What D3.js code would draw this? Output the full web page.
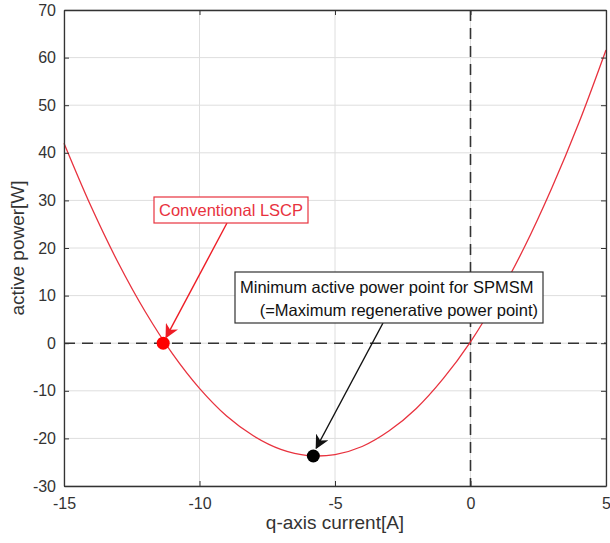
<html>
<head>
    <meta charset="utf-8">
    <style>
        body {
            margin: 0;
            background: white;
            font-family: "Liberation Sans", Arial, Helvetica, sans-serif;
        }
    </style>
    <script src="https://cdn.jsdelivr.net/npm/d3@7"></script>
</head>
<body>
    <svg id="chart"></svg>
<script>
    // curve, one point per ampere
    let currentQ = [-15, -14, -13, -12, -11, -10, -9, -8, -7, -6, -5, -4, -3, -2, -1, 0, 1, 2, 3, 4, 5]
    let activePower = [42, 28.7, 16.9, 6.6, -2.2, -9.5, -15.3, -19.5, -22.3, -23.6, -23.4, -21.7, -18.4, -13.7, -7.4, 0.3, 9.6, 20.3, 32.6, 46.3, 61.6]

    let xTicks = [-15, -10, -5, 0, 5]
    let yTicks = [-30, -20, -10, 0, 10, 20, 30, 40, 50, 60, 70]

    // marked points
    let lscpPoint = [-11.34, 0]
    let minPoint = [-5.8, -23.7]

    function configuration() {
        let width = 610
        let height = 543
        let margin = { top: 10, bottom: 57, left: 64, right: 4 }
        let bodyWidth = width - margin.left - margin.right
        let bodyHeight = height - margin.top - margin.bottom
        let container = d3.select("#chart")
            .attr("width", width)
            .attr("height", height)
        return { width, height, margin, bodyWidth, bodyHeight, container }
    }

    function makeScales(config) {
        let xScale = d3.scaleLinear()
            .domain([-15, 5])
            .range([0, config.bodyWidth])
        let yScale = d3.scaleLinear()
            .domain([-30, 70])
            .range([config.bodyHeight, 0])
        return { xScale, yScale }
    }

    function drawGrid(body, scales, config) {
        let { xScale, yScale } = scales
        body.append("g").selectAll("line")
            .data(xTicks)
            .enter().append("line")
            .attr("x1", d => xScale(d)).attr("x2", d => xScale(d))
            .attr("y1", 0).attr("y2", config.bodyHeight)
            .attr("stroke", "#dedede").attr("stroke-width", 1)
        body.append("g").selectAll("line")
            .data(yTicks)
            .enter().append("line")
            .attr("x1", 0).attr("x2", config.bodyWidth)
            .attr("y1", d => yScale(d)).attr("y2", d => yScale(d))
            .attr("stroke", "#dedede").attr("stroke-width", 1)
    }

    function drawAxes(body, scales, config) {
        let { xScale, yScale } = scales
        let { bodyWidth, bodyHeight } = config
        let axisColor = "#333"
        let plain = d => String(d)

        let bottom = body.append("g")
            .attr("transform", `translate(0,${bodyHeight})`)
            .call(d3.axisBottom(xScale).tickValues(xTicks).tickSizeInner(-5).tickSizeOuter(0).tickPadding(12).tickFormat(plain))
        let left = body.append("g")
            .call(d3.axisLeft(yScale).tickValues(yTicks).tickSizeInner(-5).tickSizeOuter(0).tickPadding(8).tickFormat(plain))
        let top = body.append("g")
            .call(d3.axisTop(xScale).tickValues(xTicks).tickSizeInner(-5).tickSizeOuter(0).tickFormat(""))
        let right = body.append("g")
            .attr("transform", `translate(${bodyWidth},0)`)
            .call(d3.axisRight(yScale).tickValues(yTicks).tickSizeInner(-5).tickSizeOuter(0).tickFormat(""))

        for (let g of [bottom, left, top, right]) {
            g.select(".domain").attr("stroke", axisColor).attr("stroke-width", 1.3)
            g.selectAll(".tick line").attr("stroke", axisColor)
            g.selectAll(".tick text")
                .attr("fill", "#333")
                .style("font-size", "16px")
                .style("font-family", "'Liberation Sans', Arial, sans-serif")
        }

        let svg = config.container
        svg.append("text")
            .attr("x", config.margin.left + bodyWidth / 2)
            .attr("y", 529)
            .attr("text-anchor", "middle")
            .attr("fill", "#333")
            .style("font-size", "19px")
            .text("q-axis current[A]")
        svg.append("text")
            .attr("transform", `translate(24,${config.margin.top + bodyHeight / 2}) rotate(-90)`)
            .attr("text-anchor", "middle")
            .attr("fill", "#333")
            .style("font-size", "19px")
            .text("active power[W]")
    }

    function drawLines(body, scales, config) {
        let { xScale, yScale } = scales
        let dash = "11,7"
        body.append("line")
            .attr("x1", 0).attr("x2", config.bodyWidth)
            .attr("y1", yScale(0)).attr("y2", yScale(0))
            .attr("stroke", "#333").attr("stroke-width", 1.6)
            .attr("stroke-dasharray", dash)
        body.append("line")
            .attr("x1", xScale(0)).attr("x2", xScale(0))
            .attr("y1", 0).attr("y2", config.bodyHeight)
            .attr("stroke", "#333").attr("stroke-width", 1.6)
            .attr("stroke-dasharray", dash)

        let points = currentQ.map((x, i) => [x, activePower[i]])
        let line = d3.line()
            .x(d => xScale(d[0]))
            .y(d => yScale(d[1]))
            .curve(d3.curveCatmullRom)
        body.append("path")
            .datum(points)
            .attr("d", line)
            .attr("fill", "none")
            .attr("stroke", "#e8323e")
            .attr("stroke-width", 1.3)
    }

    function drawAnnotations(body, scales, config) {
        let { xScale, yScale } = scales
        let { margin } = config
        let svg = config.container
        let defs = svg.append("defs")
        for (let [id, color] of [["headRed", "#ee1c25"], ["headBlack", "#111"]]) {
            defs.append("marker")
                .attr("id", id)
                .attr("viewBox", "0 0 10 10")
                .attr("refX", 9).attr("refY", 5)
                .attr("markerWidth", 14).attr("markerHeight", 14)
                .attr("markerUnits", "userSpaceOnUse")
                .attr("orient", "auto")
                .append("path")
                .attr("d", "M0,0 L10,5 L0,10 L3,5 Z")
                .attr("fill", color)
        }

        // arrows: from the text boxes to the points
        let lx = xScale(lscpPoint[0]) + margin.left
        let ly = yScale(lscpPoint[1]) + margin.top
        svg.append("line")
            .attr("x1", 227).attr("y1", 223)
            .attr("x2", lx + 3).attr("y2", ly - 6)
            .attr("stroke", "#ee1c25").attr("stroke-width", 1.4)
            .attr("marker-end", "url(#headRed)")

        let mx = xScale(minPoint[0]) + margin.left
        let my = yScale(minPoint[1]) + margin.top
        svg.append("line")
            .attr("x1", 383).attr("y1", 323)
            .attr("x2", mx + 3).attr("y2", my - 8)
            .attr("stroke", "#111").attr("stroke-width", 1.4)
            .attr("marker-end", "url(#headBlack)")

        body.append("circle")
            .attr("cx", xScale(lscpPoint[0])).attr("cy", yScale(lscpPoint[1]))
            .attr("r", 6.5).attr("fill", "#ff0000")
        body.append("circle")
            .attr("cx", xScale(minPoint[0])).attr("cy", yScale(minPoint[1]))
            .attr("r", 6.5).attr("fill", "#000")

        // text boxes
        svg.append("rect")
            .attr("x", 154).attr("y", 197).attr("width", 154).attr("height", 26)
            .attr("fill", "white").attr("stroke", "#e8323e").attr("stroke-width", 1.2)
        svg.append("text")
            .attr("x", 231).attr("y", 216)
            .attr("text-anchor", "middle")
            .attr("fill", "#e8323e")
            .style("font-size", "16.5px")
            .text("Conventional LSCP")

        svg.append("rect")
            .attr("x", 235).attr("y", 272).attr("width", 308).attr("height", 51)
            .attr("fill", "white").attr("stroke", "#333").attr("stroke-width", 1.2)
        svg.append("text")
            .attr("x", 240).attr("y", 293)
            .attr("fill", "#111")
            .style("font-size", "16.5px")
            .text("Minimum active power point for SPMSM")
        svg.append("text")
            .attr("x", 538).attr("y", 316)
            .attr("text-anchor", "end")
            .attr("fill", "#111")
            .style("font-size", "16.5px")
            .text("(=Maximum regenerative power point)")
    }

    function display() {
        let config = configuration()
        let scales = makeScales(config)
        let body = config.container.append("g")
            .attr("transform", `translate(${config.margin.left},${config.margin.top})`)
        drawGrid(body, scales, config)
        drawLines(body, scales, config)
        drawAxes(body, scales, config)
        drawAnnotations(body, scales, config)
    }

    display()
</script>
</body>
</html>
